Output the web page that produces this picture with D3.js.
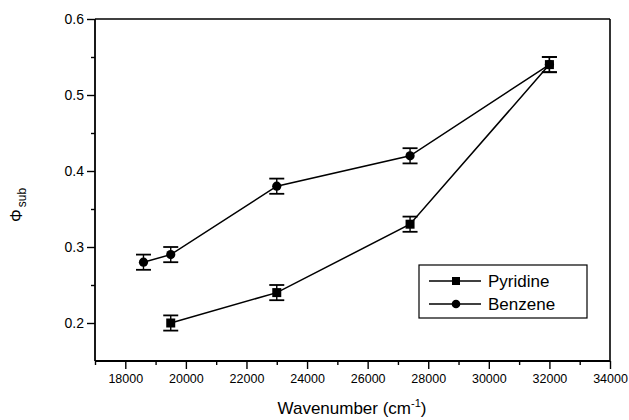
<!DOCTYPE html>
<html>
<head>
<meta charset="utf-8">
<script src="https://cdn.jsdelivr.net/npm/d3@7"></script>
<style>
  html, body { margin: 0; padding: 0; background: #fff; }
  svg { display: block; font-family: "Liberation Sans", Arial, Helvetica, sans-serif; }
</style>
</head>
<body>
<svg id="chart" width="629" height="420"></svg>
<script>
// ---- data ----
const pyridineX = [19500, 23000, 27400, 32000];
const pyridineY = [0.20, 0.24, 0.33, 0.54];
const pyridineErr = [0.01, 0.01, 0.01, 0.01];

const benzeneX = [18600, 19500, 23000, 27400, 32000];
const benzeneY = [0.28, 0.29, 0.38, 0.42, 0.54];
const benzeneErr = [0.01, 0.01, 0.01, 0.01, 0.01];

const xMajorTicks = [18000, 20000, 22000, 24000, 26000, 28000, 30000, 32000, 34000];
const xMinorTicks = [17000, 19000, 21000, 23000, 25000, 27000, 29000, 31000, 33000];
const yMajorTicks = [0.2, 0.3, 0.4, 0.5, 0.6];
const yMinorTicks = [0.25, 0.35, 0.45, 0.55];

const seriesNames = ["Pyridine", "Benzene"];

// ---- layout ----
const svg = d3.select("#chart");
const L = 95, R = 610, T = 19, B = 361;

const x = d3.scaleLinear().domain([17000, 34000]).range([L, R]);
const y = d3.scaleLinear().domain([0.15, 0.6]).range([B, T]);

// frame top & right
svg.append("line").attr("x1", L).attr("x2", R).attr("y1", T).attr("y2", T)
  .attr("stroke", "#000").attr("stroke-width", 1.6);
svg.append("line").attr("x1", R).attr("x2", R).attr("y1", T).attr("y2", B)
  .attr("stroke", "#000").attr("stroke-width", 1.6);

// bottom axis
const xAxis = svg.append("g").attr("transform", `translate(0,${B})`)
  .call(d3.axisBottom(x).tickValues(xMajorTicks).tickSize(8).tickPadding(5).tickFormat(d3.format("d")));
const xMinor = svg.append("g").attr("transform", `translate(0,${B})`)
  .call(d3.axisBottom(x).tickValues(xMinorTicks).tickSize(4).tickFormat(""));

// left axis
const yAxis = svg.append("g").attr("transform", `translate(${L},0)`)
  .call(d3.axisLeft(y).tickValues(yMajorTicks).tickSize(8).tickPadding(3).tickFormat(d3.format(".1f")));
const yMinor = svg.append("g").attr("transform", `translate(${L},0)`)
  .call(d3.axisLeft(y).tickValues(yMinorTicks).tickSize(4).tickFormat(""));

[xAxis, xMinor, yAxis, yMinor].forEach(g => {
  g.select(".domain").attr("stroke", "#000").attr("stroke-width", 1.8);
  g.selectAll(".tick line").attr("stroke", "#000").attr("stroke-width", 1.4);
});
// remove outer ticks of domain path
xAxis.select(".domain").attr("d", `M${L},0H${R}`);
xMinor.select(".domain").remove();
yAxis.select(".domain").attr("d", `M0,${T}V${B}`);
yMinor.select(".domain").remove();

xAxis.selectAll(".tick text").attr("font-size", 12.5).attr("fill", "#000")
  .attr("font-family", "'Liberation Sans', Arial, sans-serif");
yAxis.selectAll(".tick text").attr("font-size", 14).attr("fill", "#000")
  .attr("font-family", "'Liberation Sans', Arial, sans-serif");

// axis titles
const xt = svg.append("text").attr("x", 352).attr("y", 414).attr("text-anchor", "middle")
  .attr("font-size", 17).attr("fill", "#000");
xt.append("tspan").text("Wavenumber (cm");
xt.append("tspan").attr("font-size", 11).attr("dy", -7).text("-1");
xt.append("tspan").attr("dy", 7).text(")");

const yt = svg.append("text").attr("transform", "translate(22,205) rotate(-90)")
  .attr("text-anchor", "middle").attr("font-size", 16).attr("fill", "#000");
yt.append("tspan").text("Φ");
yt.append("tspan").attr("font-size", 12).attr("dy", 4).attr("dx", 2).text("sub");

// ---- series ----
function drawSeries(xs, ys, errs, marker) {
  const pts = xs.map((v, i) => ({ x: v, y: ys[i], e: errs[i] }));
  const g = svg.append("g");
  g.append("path").datum(pts)
    .attr("d", d3.line().x(d => x(d.x)).y(d => y(d.y)))
    .attr("fill", "none").attr("stroke", "#000").attr("stroke-width", 1.5);
  const eg = g.selectAll(".err").data(pts).enter().append("g");
  eg.append("line").attr("x1", d => x(d.x)).attr("x2", d => x(d.x))
    .attr("y1", d => y(d.y - d.e)).attr("y2", d => y(d.y + d.e))
    .attr("stroke", "#000").attr("stroke-width", 1.4);
  [1, -1].forEach(s => {
    eg.append("line").attr("x1", d => x(d.x) - 7.5).attr("x2", d => x(d.x) + 7.5)
      .attr("y1", d => y(d.y + s * d.e)).attr("y2", d => y(d.y + s * d.e))
      .attr("stroke", "#000").attr("stroke-width", 1.8);
  });
  if (marker === "square") {
    g.selectAll(".m").data(pts).enter().append("rect")
      .attr("x", d => x(d.x) - 4.5).attr("y", d => y(d.y) - 4.5)
      .attr("width", 9).attr("height", 9).attr("fill", "#000");
  } else {
    g.selectAll(".m").data(pts).enter().append("circle")
      .attr("cx", d => x(d.x)).attr("cy", d => y(d.y)).attr("r", 4.6).attr("fill", "#000");
  }
}
drawSeries(benzeneX, benzeneY, benzeneErr, "circle");
drawSeries(pyridineX, pyridineY, pyridineErr, "square");

// ---- legend ----
const lg = svg.append("g");
lg.append("rect").attr("x", 419).attr("y", 265).attr("width", 168).attr("height", 53)
  .attr("fill", "#fff").attr("stroke", "#000").attr("stroke-width", 1.2);
const markers = ["square", "circle"];
seriesNames.forEach((name, i) => {
  const cy = 281 + i * 23;
  lg.append("line").attr("x1", 429).attr("x2", 481).attr("y1", cy).attr("y2", cy)
    .attr("stroke", "#000").attr("stroke-width", 1.5);
  if (markers[i] === "square") {
    lg.append("rect").attr("x", 456 - 4).attr("y", cy - 4).attr("width", 8).attr("height", 8).attr("fill", "#000");
  } else {
    lg.append("circle").attr("cx", 456).attr("cy", cy).attr("r", 4.3).attr("fill", "#000");
  }
  lg.append("text").attr("x", 488).attr("y", cy + 6).attr("font-size", 17).attr("fill", "#000").text(name);
});
</script>
</body>
</html>
